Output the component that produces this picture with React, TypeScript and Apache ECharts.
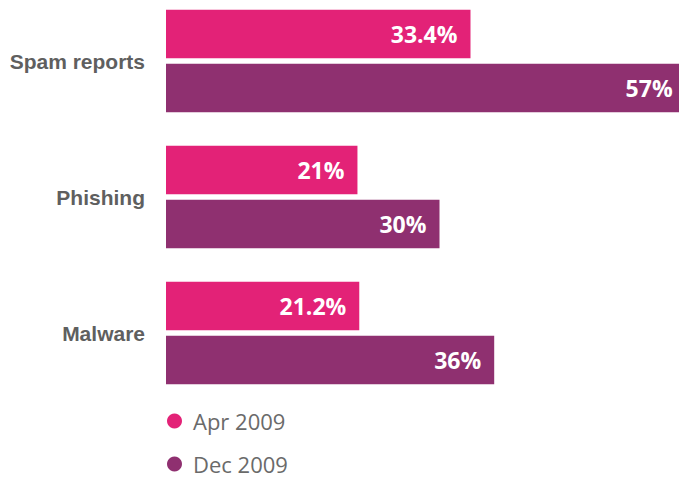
import React, { useEffect, useRef } from "react";
import * as echarts from "echarts";

const categories = ["Spam reports", "Phishing", "Malware"];
const apr2009 = [33.4, 21, 21.2];
const dec2009 = [57, 30, 36];
const seriesNames = ["Apr 2009", "Dec 2009"];

export default function App() {
  const ref = useRef<HTMLDivElement>(null);
  useEffect(() => {
    if (!ref.current) return;
    const chart = echarts.init(ref.current, null, { renderer: "svg" });
    const labelCfg = {
      show: true,
      position: "insideRight",
      distance: 13,
      color: "#ffffff",
      fontFamily: "Open Sans",
      fontWeight: "bold",
      fontSize: 23,
      formatter: (p: any) => `${p.value}%`,
    };
    chart.setOption({
      animation: false,
      backgroundColor: "#ffffff",
      grid: {
        left: 166,
        top: -7,
        right: -34,
        bottom: 78,
        containLabel: false,
        outerBoundsMode: "none",
      },
      xAxis: {
        type: "value",
        min: 0,
        max: 60,
        show: false,
      },
      yAxis: {
        type: "category",
        data: categories,
        inverse: true,
        axisLine: { show: false },
        axisTick: { show: false },
        axisLabel: {
          margin: 21,
          color: "#5f5f5f",
          fontFamily: "Liberation Sans",
          fontWeight: "bold",
          fontSize: 21,
        },
      },
      legend: {
        orient: "vertical",
        left: 167,
        top: 410,
        padding: 0,
        icon: "circle",
        itemWidth: 15,
        itemHeight: 15,
        itemGap: 21,
        data: seriesNames,
        textStyle: {
          color: "#6a6a6a",
          fontFamily: "Open Sans",
          fontSize: 22,
          lineHeight: 22,
          padding: [0, 0, 0, 6],
        },
      },
      series: [
        {
          name: seriesNames[0],
          type: "bar",
          data: apr2009,
          barWidth: 48.5,
          barGap: "11.5%",
          itemStyle: { color: "#E32277" },
          label: labelCfg,
        },
        {
          name: seriesNames[1],
          type: "bar",
          data: dec2009,
          barWidth: 48.5,
          barGap: "11.5%",
          itemStyle: { color: "#8F3070" },
          label: labelCfg,
        },
      ],
    });
    return () => chart.dispose();
  }, []);
  return (
    <div
      ref={ref}
      style={{ position: "absolute", left: 0, top: 0, width: 679, height: 479 }}
    />
  );
}
